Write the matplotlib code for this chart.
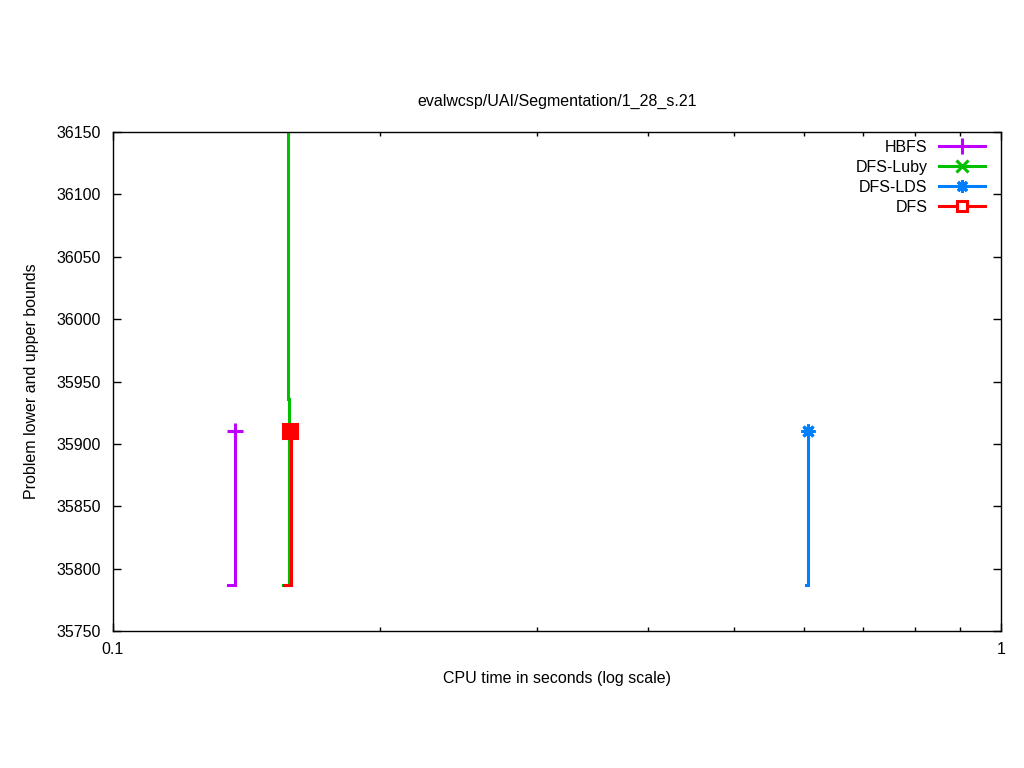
import matplotlib
matplotlib.use("Agg")
import matplotlib.pyplot as plt
from matplotlib.lines import Line2D
from matplotlib.ticker import LogLocator, FixedLocator, FixedFormatter, NullFormatter

plt.rcParams['font.family'] = ['Liberation Sans', 'DejaVu Sans']

title = "evalwcsp/UAI/Segmentation/1_28_s.21"
xlabel = "CPU time in seconds (log scale)"
ylabel = "Problem lower and upper bounds"

series_names = ["HBFS", "DFS-Luby", "DFS-LDS", "DFS"]
colors = ["#c000ff", "#00c000", "#0080ff", "#ff0000"]
markers = ["+", "x", (8, 2, 0), "s"]

# lower bound step data (time, value)
lb_times = {
    "HBFS": [0.1347, 0.1372],
    "DFS-Luby": [0.1553, 0.1580],
    "DFS-LDS": [0.6030, 0.6061],
    "DFS": [0.1558, 0.1586],
}
lb_values = {
    "HBFS": [35787, 35910],
    "DFS-Luby": [35787, 35910],
    "DFS-LDS": [35787, 35910],
    "DFS": [35787, 35910],
}
# upper bound step data (time, value)
ub_times = {
    "HBFS": [0.1372],
    "DFS-Luby": [0.1570, 0.15749, 0.15790],
    "DFS-LDS": [0.6061],
    "DFS": [0.1583],
}
ub_values = {
    "HBFS": [35910],
    "DFS-Luby": [36500, 35936, 35910],
    "DFS-LDS": [35910],
    "DFS": [35910],
}

yticks = [35750, 35800, 35850, 35900, 35950, 36000, 36050, 36100, 36150]
xticks = [0.1, 1]
xticklabels = ["0.1", "1"]

FS = 11.5
fig = plt.figure(figsize=(10.24, 7.68), dpi=100)
ax = fig.add_axes([113/1024, 1 - 631/768, 888/1024, 499/768])

lw = 2.2
plot_ms = [11, 9, 10, 9.5]
leg_ms = [11, 8, 9, 7]
handles = []
for i, (name, c, m) in enumerate(zip(series_names, colors, markers)):
    ax.plot(lb_times[name], lb_values[name], drawstyle="steps-post",
            color=c, lw=lw, solid_joinstyle="miter")
    ax.plot(ub_times[name], ub_values[name], drawstyle="steps-post",
            color=c, lw=lw, solid_joinstyle="miter")
    ax.plot([ub_times[name][-1]], [ub_values[name][-1]], linestyle="none",
            marker=m, markersize=plot_ms[i], markeredgewidth=lw, color=c,
            markerfacecolor=c)
    handles.append(Line2D([], [], color=c, lw=lw, marker=m,
                          markersize=leg_ms[i], markeredgewidth=lw,
                          markerfacecolor="white" if m == "s" else c))

ax.set_xscale("log")
ax.set_xlim(0.1, 1)
ax.set_ylim(35750, 36150)
ax.xaxis.set_major_locator(FixedLocator(xticks))
ax.xaxis.set_major_formatter(FixedFormatter(xticklabels))
ax.xaxis.set_minor_locator(LogLocator(base=10, subs=range(2, 10)))
ax.xaxis.set_minor_formatter(NullFormatter())
ax.set_yticks(yticks)
ax.set_yticklabels([str(v) for v in yticks])

ax.tick_params(axis="both", which="both", direction="in", top=True, right=True,
               labelsize=FS, width=1, colors="black")
ax.tick_params(axis="both", which="major", length=5.8)
ax.tick_params(axis="x", which="minor", length=2.9)
ax.tick_params(axis="x", which="major", pad=8)
ax.tick_params(axis="y", which="major", pad=9)
for s in ax.spines.values():
    s.set_linewidth(1)

ax.set_title(title, fontsize=FS, pad=19)
ax.set_xlabel(xlabel, fontsize=FS, labelpad=10)
ax.set_ylabel(ylabel, fontsize=FS, labelpad=12)

leg = ax.legend(handles, series_names, loc="upper right",
                bbox_to_anchor=((985 - 113) / 888, 1 - (140 - 132) / 499),
                frameon=False, markerfirst=False, fontsize=FS,
                handlelength=2.9, handletextpad=0.7, labelspacing=0.31,
                borderaxespad=0, borderpad=0, numpoints=1)

fig.savefig("out.png", dpi=100)
